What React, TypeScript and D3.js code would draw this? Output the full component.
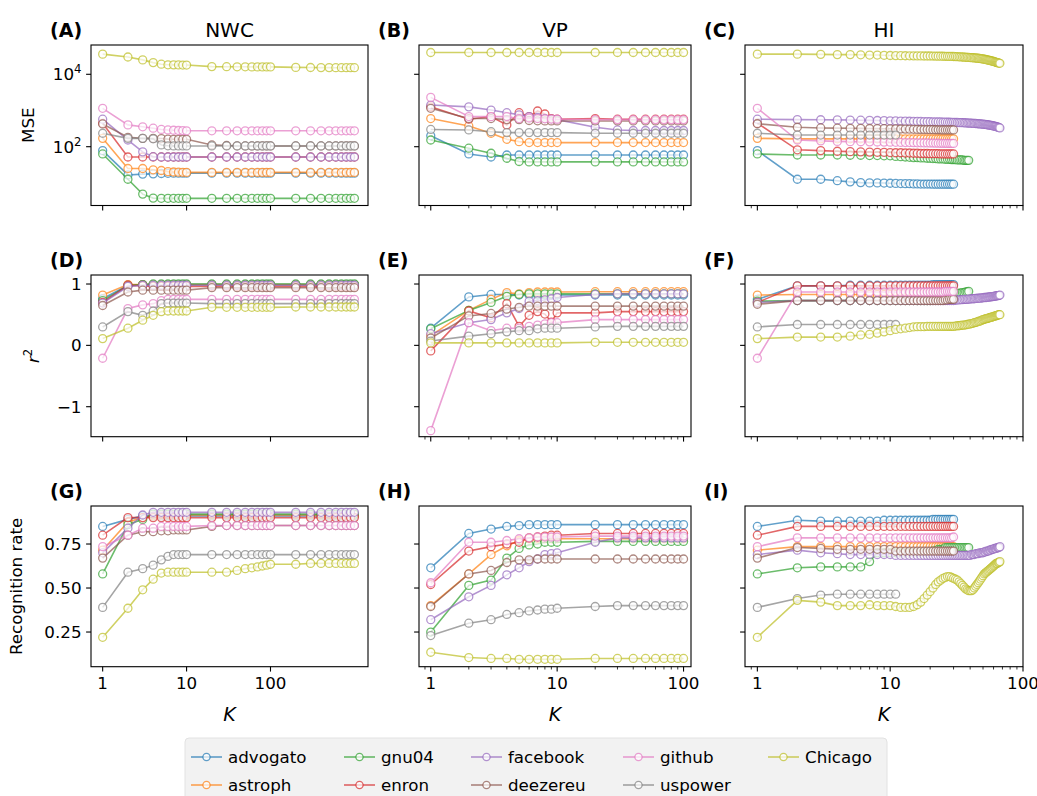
import React, { useEffect, useRef } from 'react';
import * as d3 from 'd3';

// ---- data ----
const seriesNames = ['advogato', 'astroph', 'gnu04', 'enron', 'facebook', 'deezereu', 'github', 'uspower', 'Chicago'];
const seriesColors = ['#1f77b4', '#ff7f0e', '#2ca02c', '#d62728', '#9467bd', '#8c564b', '#e377c2', '#7f7f7f', '#bcbd22'];

const kNWC = [1, 2, 3, 4, 5, 6, 7, 8, 9, 10, 20, 30, 40, 50, 60, 70, 80, 90, 100, 200, 300, 400, 500, 600, 700, 800, 900, 1000];
const kVP = [1, 2, 3, 4, 5, 6, 7, 8, 9, 10, 20, 30, 40, 50, 60, 70, 80, 90, 100];
const kHI = [
  1, 2, 3, 4, 5, 6, 7, 8, 9, 10, 11, 12, 13, 14, 15, 16, 17, 18, 19, 20,
  21, 22, 23, 24, 25, 26, 27, 28, 29, 30, 31, 32, 33, 34, 35, 36, 37, 38, 39, 40,
  41, 42, 43, 44, 45, 46, 47, 48, 49, 50, 51, 52, 53, 54, 55, 56, 57, 58, 59, 60,
  61, 62, 63, 64, 65, 66, 67,
];

const mseNWC: Record<string, number[]> = {
  advogato: [78, 16.6, 17.5, 17.8, 18.2, 18.4, 18.6, 18.6, 18.6, 18.6, 18.6, 18.6, 18.6, 18.6, 18.6, 18.6, 18.6, 18.6, 18.6, 18.6, 18.6, 18.6, 18.6, 18.6, 18.6, 18.6, 18.6, 18.6],
  astroph: [170, 25, 25, 23, 22, 20.5, 20, 19.8, 19.6, 19.5, 19.5, 19.5, 19.5, 19.5, 19.5, 19.5, 19.5, 19.5, 19.5, 19.5, 19.5, 19.5, 19.5, 19.5, 19.5, 19.5, 19.5, 19.5],
  gnu04: [63, 12.6, 4.9, 3.8, 3.75, 3.75, 3.75, 3.75, 3.75, 3.75, 3.75, 3.75, 3.75, 3.75, 3.75, 3.75, 3.75, 3.75, 3.75, 3.75, 3.75, 3.75, 3.75, 3.75, 3.75, 3.75, 3.75, 3.75],
  enron: [443, 52, 52, 52, 52, 52, 52, 52, 52, 52, 52, 52, 52, 52, 52, 52, 52, 52, 52, 52, 52, 52, 52, 52, 52, 52, 52, 52],
  facebook: [575, 153, 72, 53, 52, 52, 52, 52, 52, 52, 52, 52, 52, 52, 52, 52, 52, 52, 52, 52, 52, 52, 52, 52, 52, 52, 52, 52],
  deezereu: [425, 182, 170, 170, 168, 162, 160, 160, 160, 160, 112, 108, 106, 105, 105, 105, 105, 105, 105, 105, 105, 105, 105, 105, 105, 105, 105, 105],
  github: [1150, 400, 355, 325, 300, 290, 285, 280, 278, 275, 275, 275, 275, 275, 275, 275, 275, 275, 275, 275, 275, 275, 275, 275, 275, 275, 275, 275],
  uspower: [235, 170, 170, 165, 112, 106, 105, 105, 105, 105, 105, 105, 105, 105, 105, 105, 105, 105, 105, 105, 105, 105, 105, 105, 105, 105, 105, 105],
  Chicago: [36000, 30000, 25000, 21000, 19000, 18300, 18200, 18100, 18000, 18000, 16300, 16200, 16100, 16100, 16000, 16000, 16000, 16000, 16000, 15500, 15400, 15300, 15300, 15200, 15200, 15200, 15200, 15200],
};

const mseVP: Record<string, number[]> = {
  advogato: [200, 63, 52, 59, 59, 59, 59, 59, 59, 59, 59, 59, 59, 59, 59, 59, 59, 59, 59],
  astroph: [600, 375, 235, 160, 138, 130, 130, 130, 130, 130, 130, 130, 130, 130, 130, 130, 130, 130, 130],
  gnu04: [153, 91, 66, 48, 39, 38, 38, 38, 38, 38, 38, 38, 38, 38, 38, 38, 38, 38, 38],
  enron: [1260, 575, 680, 400, 870, 680, 970, 800, 600, 575, 600, 575, 575, 575, 575, 575, 575, 575, 575],
  facebook: [1420, 1260, 1030, 870, 760, 680, 640, 600, 580, 560, 345, 290, 280, 280, 280, 280, 280, 280, 280],
  deezereu: [1150, 600, 600, 560, 560, 530, 520, 515, 515, 515, 515, 515, 515, 515, 515, 515, 515, 515, 515],
  github: [2300, 680, 676, 680, 600, 620, 600, 590, 580, 575, 560, 560, 560, 560, 560, 560, 560, 560, 560],
  uspower: [300, 290, 260, 245, 245, 245, 245, 245, 245, 245, 235, 235, 235, 235, 235, 235, 235, 235, 235],
  Chicago: [40000, 40000, 40000, 40000, 40000, 40000, 40000, 40000, 40000, 40000, 40000, 40000, 40000, 40000, 40000, 40000, 40000, 40000, 40000],
};

const mseHI: Record<string, number[]> = {
  advogato: [78, 12.6, 12.6, 11.5, 10.7, 10.2, 10, 10, 9.9, 9.8, 9.7, 9.6, 9.5, 9.5, 9.4, 9.4, 9.3, 9.3, 9.3, 9.3, 9.2, 9.2, 9.2, 9.2, 9.2, 9.2, 9.2, 9.2, 9.2, 9.2],
  astroph: [170, 165, 165, 165, 165, 165, 165, 165, 165, 165, 165, 165, 165, 165, 165, 165, 165, 165, 165, 165, 165, 165, 165, 165, 165, 165, 165, 165, 165, 165],
  gnu04: [63, 59, 59, 59, 58, 58, 57, 57, 56, 56, 54, 53, 52, 51, 50, 50, 49, 49, 48, 48, 47, 47, 46, 46, 46, 45, 45, 45, 44, 44, 44, 43, 43, 43, 43, 42, 42, 42, 42],
  enron: [445, 82, 78, 75, 73, 72, 71, 70, 70, 69, 68, 68, 67, 67, 66, 66, 65, 65, 65, 64, 64, 64, 64, 63, 63, 63, 63, 63, 63, 63],
  facebook: [
    575, 560, 555, 550, 545, 540, 535, 530, 525, 520, 515, 510, 508, 505, 502, 500, 498, 495, 492, 490,
    488, 486, 484, 482, 480, 478, 476, 474, 472, 470, 468, 466, 464, 462, 460, 458, 455, 452, 450, 448,
    445, 442, 440, 437, 434, 431, 428, 425, 422, 420, 416, 412, 408, 404, 400, 395, 390, 385, 380, 375,
    370, 364, 358, 352, 345, 338, 330,
  ],
  deezereu: [430, 345, 330, 325, 322, 320, 318, 316, 314, 312, 310, 308, 306, 304, 302, 300, 299, 298, 297, 296, 295, 294, 293, 292, 291, 290, 290, 290, 290, 290],
  github: [1150, 153, 145, 140, 138, 137, 136, 135, 134, 133, 132, 131, 130, 130, 129, 128, 128, 127, 127, 126, 126, 125, 125, 124, 124, 124, 123, 123, 123, 123],
  uspower: [235, 210, 210, 210, 210, 210, 210, 210, 210, 210, 210],
  Chicago: [
    36000, 36000, 35500, 35000, 35000, 34500, 34000, 34000, 33500, 33000, 32800, 32600, 32500, 32400, 32300, 32200, 32100, 32000, 32000, 32000,
    31900, 31800, 31700, 31600, 31500, 31400, 31300, 31200, 31100, 31000, 30800, 30600, 30400, 30200, 30000, 29800, 29600, 29400, 29200, 29000,
    28800, 28600, 28400, 28200, 28000, 27700, 27400, 27100, 26800, 26500, 26200, 25800, 25400, 25000, 24600, 24200, 23800, 23400, 23000, 22600,
    22200, 21800, 21400, 21000, 20700, 20400, 20100,
  ],
};

const r2NWC: Record<string, number[]> = {
  advogato: [0.76, 0.98, 0.99, 0.99, 0.99, 0.99, 0.99, 0.99, 0.99, 0.99, 0.99, 0.99, 0.99, 0.99, 0.99, 0.99, 0.99, 0.99, 0.99, 0.99, 0.99, 0.99, 0.99, 0.99, 0.99, 0.99, 0.99, 0.99],
  astroph: [0.82, 0.99, 0.99, 0.99, 0.99, 0.99, 0.99, 0.99, 0.99, 0.99, 0.99, 0.99, 0.99, 0.99, 0.99, 0.99, 0.99, 0.99, 0.99, 0.99, 0.99, 0.99, 0.99, 0.99, 0.99, 0.99, 0.99, 0.99],
  gnu04: [0.73, 0.97, 0.99, 1.0, 1.0, 1.0, 1.0, 1.0, 1.0, 1.0, 1.0, 1.0, 1.0, 1.0, 1.0, 1.0, 1.0, 1.0, 1.0, 1.0, 1.0, 1.0, 1.0, 1.0, 1.0, 1.0, 1.0, 1.0],
  enron: [0.7, 0.98, 0.97, 0.96, 0.96, 0.96, 0.96, 0.96, 0.96, 0.96, 0.96, 0.96, 0.96, 0.96, 0.96, 0.96, 0.96, 0.96, 0.96, 0.96, 0.96, 0.96, 0.96, 0.96, 0.96, 0.96, 0.96, 0.96],
  facebook: [0.69, 0.96, 0.98, 0.98, 0.98, 0.98, 0.98, 0.98, 0.98, 0.98, 0.98, 0.98, 0.98, 0.98, 0.98, 0.98, 0.98, 0.98, 0.98, 0.98, 0.98, 0.98, 0.98, 0.98, 0.98, 0.98, 0.98, 0.98],
  deezereu: [0.65, 0.87, 0.9, 0.9, 0.9, 0.9, 0.9, 0.9, 0.9, 0.9, 0.94, 0.94, 0.94, 0.94, 0.94, 0.94, 0.94, 0.94, 0.94, 0.94, 0.94, 0.94, 0.94, 0.94, 0.94, 0.94, 0.94, 0.94],
  github: [-0.21, 0.6, 0.66, 0.68, 0.73, 0.75, 0.75, 0.75, 0.75, 0.75, 0.75, 0.75, 0.75, 0.75, 0.75, 0.75, 0.75, 0.75, 0.75, 0.75, 0.75, 0.75, 0.75, 0.75, 0.75, 0.75, 0.75, 0.75],
  uspower: [0.3, 0.55, 0.49, 0.56, 0.68, 0.69, 0.69, 0.69, 0.69, 0.69, 0.68, 0.68, 0.68, 0.68, 0.68, 0.68, 0.68, 0.68, 0.68, 0.68, 0.68, 0.68, 0.68, 0.68, 0.68, 0.68, 0.68, 0.68],
  Chicago: [0.11, 0.28, 0.41, 0.49, 0.55, 0.56, 0.56, 0.56, 0.56, 0.56, 0.62, 0.62, 0.62, 0.62, 0.62, 0.62, 0.62, 0.62, 0.62, 0.625, 0.625, 0.625, 0.625, 0.625, 0.625, 0.625, 0.625, 0.625],
};

const r2VP: Record<string, number[]> = {
  advogato: [0.28, 0.79, 0.83, 0.83, 0.82, 0.82, 0.82, 0.82, 0.82, 0.82, 0.82, 0.82, 0.82, 0.82, 0.82, 0.82, 0.82, 0.82, 0.82],
  astroph: [0.16, 0.57, 0.75, 0.86, 0.84, 0.86, 0.87, 0.87, 0.87, 0.87, 0.875, 0.875, 0.875, 0.875, 0.875, 0.875, 0.875, 0.875, 0.875],
  gnu04: [0.27, 0.57, 0.7, 0.8, 0.83, 0.84, 0.84, 0.84, 0.84, 0.84, 0.84, 0.84, 0.84, 0.84, 0.84, 0.84, 0.84, 0.84, 0.84],
  enron: [-0.09, 0.56, 0.45, 0.68, 0.31, 0.49, 0.55, 0.51, 0.38, 0.53, 0.53, 0.55, 0.55, 0.55, 0.55, 0.55, 0.55, 0.55, 0.55],
  facebook: [0.19, 0.37, 0.42, 0.53, 0.6, 0.72, 0.73, 0.74, 0.76, 0.78, 0.83, 0.84, 0.84, 0.84, 0.84, 0.84, 0.84, 0.84, 0.84],
  deezereu: [0.12, 0.48, 0.52, 0.59, 0.62, 0.64, 0.64, 0.64, 0.64, 0.64, 0.64, 0.64, 0.64, 0.64, 0.64, 0.64, 0.64, 0.64, 0.64],
  github: [-1.39, 0.37, 0.24, 0.28, 0.28, 0.31, 0.33, 0.35, 0.37, 0.37, 0.42, 0.42, 0.42, 0.42, 0.42, 0.42, 0.42, 0.42, 0.42],
  uspower: [0.07, 0.15, 0.19, 0.22, 0.24, 0.24, 0.27, 0.28, 0.28, 0.28, 0.3, 0.31, 0.31, 0.31, 0.31, 0.31, 0.31, 0.31, 0.31],
  Chicago: [0.04, 0.04, 0.04, 0.04, 0.04, 0.04, 0.04, 0.04, 0.04, 0.04, 0.05, 0.05, 0.05, 0.05, 0.05, 0.05, 0.05, 0.05, 0.05],
};

const r2HI: Record<string, number[]> = {
  advogato: [0.75, 0.97, 0.97, 0.97, 0.98, 0.98, 0.98, 0.98, 0.98, 0.98, 0.98, 0.98, 0.98, 0.98, 0.98, 0.98, 0.98, 0.98, 0.98, 0.98, 0.99, 0.99, 0.99, 0.99, 0.99, 0.99, 0.99, 0.99, 0.99, 0.99],
  astroph: [0.82, 0.83, 0.83, 0.83, 0.83, 0.83, 0.83, 0.83, 0.83, 0.83, 0.83, 0.83, 0.83, 0.83, 0.83, 0.83, 0.83, 0.83, 0.83, 0.83, 0.83, 0.83, 0.83, 0.83, 0.83, 0.83, 0.83, 0.83, 0.83, 0.83],
  gnu04: [
    0.72, 0.73, 0.73, 0.73, 0.73, 0.73, 0.73, 0.73, 0.73, 0.73, 0.73, 0.73, 0.73, 0.73, 0.73, 0.73, 0.73, 0.73, 0.73, 0.73,
    0.74, 0.75, 0.76, 0.77, 0.78, 0.79, 0.8, 0.81, 0.82, 0.83, 0.84, 0.84, 0.85, 0.85, 0.86, 0.86, 0.87, 0.87, 0.88,
  ],
  enron: [0.7, 0.97, 0.97, 0.97, 0.97, 0.97, 0.97, 0.97, 0.97, 0.97, 0.97, 0.97, 0.97, 0.97, 0.97, 0.97, 0.97, 0.97, 0.97, 0.97, 0.97, 0.97, 0.97, 0.97, 0.97, 0.97, 0.97, 0.97, 0.97, 0.97],
  facebook: [
    0.7, 0.73, 0.73, 0.73, 0.73, 0.73, 0.73, 0.73, 0.73, 0.73, 0.73, 0.73, 0.73, 0.73, 0.73, 0.73, 0.73, 0.73, 0.73, 0.73,
    0.73, 0.73, 0.73, 0.73, 0.73, 0.73, 0.73, 0.73, 0.73, 0.73, 0.735, 0.74, 0.74, 0.745, 0.745, 0.75, 0.75, 0.75, 0.755, 0.755,
    0.76, 0.76, 0.76, 0.765, 0.765, 0.77, 0.77, 0.77, 0.775, 0.775, 0.78, 0.78, 0.78, 0.785, 0.785, 0.79, 0.79, 0.795, 0.795, 0.8,
    0.8, 0.805, 0.805, 0.81, 0.81, 0.815, 0.82,
  ],
  deezereu: [0.67, 0.73, 0.73, 0.73, 0.73, 0.73, 0.73, 0.73, 0.73, 0.73, 0.73, 0.73, 0.73, 0.73, 0.73, 0.73, 0.73, 0.73, 0.73, 0.73, 0.73, 0.73, 0.73, 0.73, 0.73, 0.74, 0.74, 0.75, 0.75, 0.75],
  github: [-0.21, 0.87, 0.87, 0.87, 0.87, 0.87, 0.87, 0.87, 0.87, 0.87, 0.87, 0.87, 0.87, 0.87, 0.87, 0.87, 0.87, 0.87, 0.87, 0.87, 0.87, 0.87, 0.87, 0.87, 0.87, 0.88, 0.88, 0.88, 0.88, 0.88],
  uspower: [0.3, 0.34, 0.34, 0.34, 0.34, 0.34, 0.34, 0.34, 0.34, 0.34, 0.34],
  Chicago: [
    0.11, 0.135, 0.135, 0.135, 0.15, 0.17, 0.18, 0.2, 0.22, 0.24, 0.26, 0.27, 0.28, 0.29, 0.3, 0.305, 0.305, 0.305, 0.31, 0.31,
    0.31, 0.31, 0.31, 0.31, 0.31, 0.31, 0.31, 0.31, 0.31, 0.31, 0.315, 0.32, 0.32, 0.325, 0.33, 0.33, 0.335, 0.34, 0.345, 0.35,
    0.355, 0.36, 0.37, 0.375, 0.38, 0.39, 0.395, 0.4, 0.41, 0.42, 0.425, 0.43, 0.435, 0.44, 0.445, 0.45, 0.455, 0.46, 0.465, 0.47,
    0.475, 0.48, 0.485, 0.49, 0.495, 0.5, 0.5,
  ],
};

const recNWC: Record<string, number[]> = {
  advogato: [0.85, 0.89, 0.91, 0.91, 0.91, 0.91, 0.91, 0.91, 0.91, 0.91, 0.91, 0.91, 0.91, 0.91, 0.91, 0.91, 0.91, 0.91, 0.91, 0.91, 0.91, 0.91, 0.91, 0.91, 0.91, 0.91, 0.91, 0.91],
  astroph: [0.715, 0.875, 0.9, 0.91, 0.915, 0.915, 0.915, 0.915, 0.915, 0.915, 0.915, 0.915, 0.915, 0.915, 0.915, 0.915, 0.915, 0.915, 0.915, 0.915, 0.915, 0.915, 0.915, 0.915, 0.915, 0.915, 0.915, 0.915],
  gnu04: [0.58, 0.86, 0.89, 0.92, 0.92, 0.92, 0.92, 0.92, 0.92, 0.92, 0.92, 0.92, 0.92, 0.92, 0.92, 0.92, 0.92, 0.92, 0.92, 0.92, 0.92, 0.92, 0.92, 0.92, 0.92, 0.92, 0.92, 0.92],
  enron: [0.8, 0.9, 0.9, 0.9, 0.9, 0.9, 0.9, 0.9, 0.9, 0.9, 0.9, 0.9, 0.9, 0.9, 0.9, 0.9, 0.9, 0.9, 0.9, 0.9, 0.9, 0.9, 0.9, 0.9, 0.9, 0.9, 0.9, 0.9],
  facebook: [0.7, 0.84, 0.915, 0.93, 0.93, 0.93, 0.93, 0.93, 0.93, 0.93, 0.93, 0.93, 0.93, 0.93, 0.93, 0.93, 0.93, 0.93, 0.93, 0.93, 0.93, 0.93, 0.93, 0.93, 0.93, 0.93, 0.93, 0.93],
  deezereu: [0.67, 0.8, 0.82, 0.82, 0.825, 0.825, 0.83, 0.83, 0.83, 0.83, 0.85, 0.855, 0.855, 0.855, 0.855, 0.855, 0.855, 0.855, 0.855, 0.855, 0.855, 0.855, 0.855, 0.855, 0.855, 0.855, 0.855, 0.855],
  github: [0.735, 0.8, 0.84, 0.84, 0.85, 0.85, 0.85, 0.85, 0.85, 0.85, 0.855, 0.855, 0.855, 0.855, 0.855, 0.855, 0.855, 0.855, 0.855, 0.855, 0.855, 0.855, 0.855, 0.855, 0.855, 0.855, 0.855, 0.855],
  uspower: [0.39, 0.59, 0.61, 0.63, 0.66, 0.68, 0.69, 0.69, 0.69, 0.69, 0.69, 0.69, 0.69, 0.69, 0.69, 0.69, 0.69, 0.69, 0.69, 0.69, 0.69, 0.69, 0.69, 0.69, 0.69, 0.69, 0.69, 0.69],
  Chicago: [0.22, 0.385, 0.49, 0.55, 0.585, 0.59, 0.59, 0.59, 0.59, 0.59, 0.59, 0.59, 0.6, 0.61, 0.615, 0.62, 0.625, 0.63, 0.635, 0.635, 0.64, 0.64, 0.64, 0.64, 0.64, 0.64, 0.64, 0.64],
};

const recVP: Record<string, number[]> = {
  advogato: [0.615, 0.81, 0.835, 0.85, 0.855, 0.86, 0.86, 0.86, 0.86, 0.86, 0.86, 0.86, 0.86, 0.86, 0.86, 0.86, 0.86, 0.86, 0.86],
  astroph: [0.4, 0.58, 0.69, 0.74, 0.77, 0.78, 0.78, 0.78, 0.78, 0.78, 0.78, 0.78, 0.78, 0.78, 0.78, 0.78, 0.78, 0.78, 0.78],
  gnu04: [0.25, 0.515, 0.545, 0.67, 0.725, 0.745, 0.75, 0.76, 0.76, 0.76, 0.765, 0.765, 0.765, 0.765, 0.765, 0.765, 0.765, 0.765, 0.765],
  enron: [0.52, 0.71, 0.735, 0.75, 0.76, 0.785, 0.79, 0.795, 0.8, 0.8, 0.81, 0.81, 0.81, 0.81, 0.81, 0.81, 0.81, 0.81, 0.81],
  facebook: [0.32, 0.45, 0.515, 0.575, 0.615, 0.65, 0.665, 0.69, 0.695, 0.7, 0.76, 0.785, 0.785, 0.785, 0.785, 0.785, 0.785, 0.785, 0.785],
  deezereu: [0.395, 0.58, 0.6, 0.645, 0.66, 0.66, 0.665, 0.665, 0.665, 0.665, 0.665, 0.665, 0.665, 0.665, 0.665, 0.665, 0.665, 0.665, 0.665],
  github: [0.53, 0.76, 0.76, 0.77, 0.78, 0.785, 0.79, 0.79, 0.79, 0.79, 0.795, 0.795, 0.795, 0.795, 0.795, 0.795, 0.795, 0.795, 0.795],
  uspower: [0.23, 0.3, 0.32, 0.35, 0.36, 0.37, 0.375, 0.38, 0.38, 0.385, 0.395, 0.4, 0.4, 0.4, 0.4, 0.4, 0.4, 0.4, 0.4],
  Chicago: [0.135, 0.105, 0.1, 0.1, 0.095, 0.095, 0.095, 0.095, 0.095, 0.095, 0.1, 0.1, 0.1, 0.1, 0.1, 0.1, 0.1, 0.1, 0.1],
};

const recHI: Record<string, number[]> = {
  advogato: [0.85, 0.885, 0.88, 0.88, 0.88, 0.88, 0.88, 0.88, 0.885, 0.885, 0.885, 0.885, 0.885, 0.885, 0.885, 0.885, 0.885, 0.885, 0.885, 0.885, 0.89, 0.89, 0.89, 0.89, 0.89, 0.89, 0.89, 0.89, 0.89, 0.89],
  astroph: [0.715, 0.735, 0.735, 0.735, 0.735, 0.735, 0.735, 0.735, 0.735, 0.735, 0.735, 0.735, 0.735, 0.735, 0.735, 0.735, 0.735, 0.735, 0.735, 0.735, 0.735, 0.735, 0.735, 0.735, 0.735, 0.735, 0.735, 0.735, 0.735, 0.735],
  gnu04: [
    0.58, 0.615, 0.62, 0.62, 0.62, 0.62, 0.65, 0.7, 0.7, 0.7, 0.7, 0.7, 0.7, 0.7, 0.7, 0.7, 0.7, 0.7, 0.7, 0.7,
    0.71, 0.71, 0.72, 0.72, 0.72, 0.73, 0.73, 0.73, 0.73, 0.73, 0.73, 0.73, 0.73, 0.73, 0.73, 0.73, 0.73, 0.73, 0.73,
  ],
  enron: [0.8, 0.85, 0.85, 0.85, 0.85, 0.85, 0.85, 0.85, 0.85, 0.85, 0.85, 0.85, 0.85, 0.85, 0.85, 0.85, 0.85, 0.85, 0.85, 0.85, 0.85, 0.85, 0.85, 0.85, 0.85, 0.85, 0.85, 0.85, 0.85, 0.85],
  facebook: [
    0.69, 0.715, 0.7, 0.695, 0.69, 0.69, 0.69, 0.69, 0.69, 0.69, 0.685, 0.685, 0.685, 0.685, 0.685, 0.685, 0.685, 0.685, 0.685, 0.685,
    0.685, 0.685, 0.685, 0.685, 0.685, 0.685, 0.685, 0.685, 0.685, 0.685, 0.685, 0.685, 0.685, 0.685, 0.685, 0.685, 0.685, 0.685, 0.685, 0.685,
    0.69, 0.69, 0.69, 0.695, 0.695, 0.695, 0.7, 0.7, 0.7, 0.7, 0.705, 0.705, 0.71, 0.71, 0.71, 0.715, 0.715, 0.72, 0.72, 0.72,
    0.725, 0.725, 0.725, 0.73, 0.73, 0.73, 0.735,
  ],
  deezereu: [0.67, 0.73, 0.725, 0.72, 0.72, 0.72, 0.72, 0.72, 0.72, 0.72, 0.71, 0.71, 0.71, 0.71, 0.71, 0.71, 0.71, 0.71, 0.71, 0.71, 0.71, 0.71, 0.71, 0.71, 0.71, 0.71, 0.71, 0.71, 0.71, 0.71],
  github: [0.735, 0.785, 0.785, 0.785, 0.785, 0.785, 0.785, 0.785, 0.785, 0.785, 0.785, 0.785, 0.785, 0.785, 0.785, 0.785, 0.785, 0.785, 0.785, 0.785, 0.785, 0.785, 0.785, 0.785, 0.785, 0.785, 0.785, 0.785, 0.785, 0.79],
  uspower: [0.39, 0.44, 0.46, 0.465, 0.465, 0.465, 0.465, 0.465, 0.465, 0.465, 0.465],
  Chicago: [
    0.22, 0.43, 0.42, 0.4, 0.4, 0.4, 0.405, 0.4, 0.4, 0.4, 0.395, 0.39, 0.39, 0.39, 0.395, 0.405, 0.42, 0.44, 0.46, 0.48,
    0.5, 0.52, 0.535, 0.545, 0.555, 0.56, 0.565, 0.565, 0.56, 0.555, 0.55, 0.545, 0.535, 0.525, 0.515, 0.505, 0.495, 0.49, 0.485, 0.485,
    0.485, 0.49, 0.5, 0.51, 0.52, 0.53, 0.54, 0.55, 0.56, 0.57, 0.58, 0.585, 0.59, 0.595, 0.6, 0.605, 0.61, 0.615, 0.62, 0.625,
    0.63, 0.635, 0.64, 0.64, 0.645, 0.645, 0.65,
  ],
};

const colTitles = ['NWC', 'VP', 'HI'];
const panelLetters = ['A', 'B', 'C', 'D', 'E', 'F', 'G', 'H', 'I'];
const xTickValues = [1, 10, 100];
const xMinorValues = [0.9, 2, 3, 4, 5, 6, 7, 8, 9, 20, 30, 40, 50, 60, 70, 80, 90];
const mseTicks = [100, 10000];
const r2Ticks = [-1, 0, 1];
const recTicks = [0.25, 0.5, 0.75];

const FONT = '"DejaVu Sans", sans-serif';

const App = () => {
  const ref = useRef<SVGSVGElement>(null);

  useEffect(() => {
    document.body.style.margin = '0';
    const svg = d3.select(ref.current);
    svg.selectAll('*').remove();

    const cols = [
      { k: kNWC, lo: -0.139, hi: 3.162, left: 91, right: 368, minor: false },
      { k: kVP, lo: -0.093, hi: 2.059, left: 419, right: 691, minor: true },
      { k: kHI, lo: -0.093, hi: 2.0, left: 745, right: 1023, minor: true },
    ];
    const rows = [
      { top: 45, bottom: 205.5, log: true, lo: Math.pow(10, 0.376), hi: Math.pow(10, 4.809), ticks: mseTicks, data: [mseNWC, mseVP, mseHI] },
      { top: 275, bottom: 436.7, log: false, lo: -1.489, hi: 1.147, ticks: r2Ticks, data: [r2NWC, r2VP, r2HI] },
      { top: 506, bottom: 666.7, log: false, lo: 0.053, hi: 0.966, ticks: recTicks, data: [recNWC, recVP, recHI] },
    ];

    const defs = svg.append('defs');

    rows.forEach((row, ri) => {
      cols.forEach((col, ci) => {
        const x = d3.scaleLog().domain([Math.pow(10, col.lo), Math.pow(10, col.hi)]).range([col.left, col.right]);
        const y = (row.log ? d3.scaleLog() : d3.scaleLinear())
          .domain([row.lo, row.hi])
          .range([row.bottom, row.top]) as d3.ScaleContinuousNumeric<number, number>;

        const clipId = `clip-${ri}-${ci}`;
        defs.append('clipPath').attr('id', clipId)
          .append('rect')
          .attr('x', col.left).attr('y', row.top)
          .attr('width', col.right - col.left).attr('height', row.bottom - row.top);

        const g = svg.append('g');
        const plot = g.append('g').attr('clip-path', `url(#${clipId})`);
        const data = row.data[ci];

        seriesNames.forEach((name, si) => {
          const vals = data[name];
          if (!vals) return;
          const pts = vals.map((v, j) => [col.k[j], v] as [number, number]);
          const color = seriesColors[si];
          plot.append('path')
            .datum(pts)
            .attr('d', d3.line<[number, number]>().x(d => x(d[0])).y(d => y(d[1])))
            .attr('fill', 'none')
            .attr('stroke', color)
            .attr('stroke-opacity', 0.7)
            .attr('stroke-width', 1.6);
          plot.append('g')
            .selectAll('circle')
            .data(pts)
            .join('circle')
            .attr('cx', d => x(d[0]))
            .attr('cy', d => y(d[1]))
            .attr('r', 4)
            .attr('fill', '#fff')
            .attr('fill-opacity', 0.7)
            .attr('stroke', color)
            .attr('stroke-opacity', 0.7)
            .attr('stroke-width', 1.3);
        });

        // frame
        g.append('rect')
          .attr('x', col.left).attr('y', row.top)
          .attr('width', col.right - col.left).attr('height', row.bottom - row.top)
          .attr('fill', 'none').attr('stroke', '#000').attr('stroke-width', 1.1);

        // x ticks
        g.append('g').selectAll('line')
          .data(xTickValues.filter(v => x(v) <= col.right + 0.5))
          .join('line')
          .attr('x1', d => x(d)).attr('x2', d => x(d))
          .attr('y1', row.bottom).attr('y2', row.bottom + 4.9)
          .attr('stroke', '#000').attr('stroke-width', 1.1);
        if (col.minor) {
          g.append('g').selectAll('line')
            .data(xMinorValues.filter(v => x(v) >= col.left && x(v) <= col.right))
            .join('line')
            .attr('x1', d => x(d)).attr('x2', d => x(d))
            .attr('y1', row.bottom).attr('y2', row.bottom + 2.8)
            .attr('stroke', '#000').attr('stroke-width', 0.8);
        }
        if (ri === 2) {
          g.append('g').selectAll('text')
            .data(xTickValues)
            .join('text')
            .attr('x', d => x(d))
            .attr('y', row.bottom + 22.5)
            .attr('text-anchor', 'middle')
            .attr('font-family', FONT)
            .attr('font-size', 16.7)
            .text(d => String(d));
          g.append('text')
            .attr('x', (col.left + col.right) / 2)
            .attr('y', row.bottom + 54)
            .attr('text-anchor', 'middle')
            .attr('font-family', FONT)
            .attr('font-style', 'italic')
            .attr('font-size', 19)
            .text('K');
        }

        // y ticks
        g.append('g').selectAll('line')
          .data(row.ticks)
          .join('line')
          .attr('x1', col.left - 4.9).attr('x2', col.left)
          .attr('y1', d => y(d)).attr('y2', d => y(d))
          .attr('stroke', '#000').attr('stroke-width', 1.1);

        if (ci === 0) {
          const lbl = g.append('g').selectAll('text')
            .data(row.ticks)
            .join('text')
            .attr('x', col.left - 9.5)
            .attr('y', d => y(d) + 6)
            .attr('text-anchor', 'end')
            .attr('font-family', FONT)
            .attr('font-size', 16.7);
          if (ri === 0) {
            lbl.each(function (d) {
              const t = d3.select(this);
              t.append('tspan').text('10');
              t.append('tspan').attr('dy', -7).attr('font-size', 11.7).text(String(Math.round(Math.log10(d))));
            });
          } else if (ri === 1) {
            lbl.text(d => (d < 0 ? '\u2212' + Math.abs(d) : String(d)));
          } else {
            lbl.text(d => d3.format('.2f')(d));
          }
        }

        // panel letter
        g.append('text')
          .attr('x', col.left - 41)
          .attr('y', row.top - 8)
          .attr('font-family', FONT)
          .attr('font-weight', 'bold')
          .attr('font-size', 19)
          .text(`(${panelLetters[ri * 3 + ci]})`);

        if (ri === 0) {
          g.append('text')
            .attr('x', (col.left + col.right) / 2)
            .attr('y', row.top - 8)
            .attr('text-anchor', 'middle')
            .attr('font-family', FONT)
            .attr('font-size', 20)
            .text(colTitles[ci]);
        }
      });
    });

    // y labels
    const ylab = (xPos: number, yPos: number) =>
      svg.append('text')
        .attr('transform', `translate(${xPos},${yPos}) rotate(-90)`)
        .attr('text-anchor', 'middle')
        .attr('font-family', FONT)
        .attr('font-size', 16.7);
    ylab(34, (rows[0].top + rows[0].bottom) / 2).text('MSE');
    const r2 = ylab(39, (rows[1].top + rows[1].bottom) / 2);
    r2.append('tspan').attr('font-style', 'italic').text('r');
    r2.append('tspan').attr('dy', -7).attr('font-size', 11.7).text('2');
    ylab(22, (rows[2].top + rows[2].bottom) / 2).text('Recognition rate');

    // legend
    const legend = svg.append('g');
    legend.append('rect')
      .attr('x', 185).attr('y', 738)
      .attr('width', 702).attr('height', 64)
      .attr('rx', 4)
      .attr('fill', '#f2f2f2')
      .attr('stroke', '#e2e2e2');
    const textStarts = [228, 381, 508, 660, 805];
    seriesNames.forEach((name, i) => {
      const c = Math.floor(i / 2);
      const r = i % 2;
      const tx = textStarts[c];
      const lx = tx - 37;
      const ly = 757 + r * 28;
      const item = legend.append('g');
      item.append('line')
        .attr('x1', lx).attr('x2', lx + 31)
        .attr('y1', ly).attr('y2', ly)
        .attr('stroke', seriesColors[i]).attr('stroke-opacity', 0.7).attr('stroke-width', 1.6);
      item.append('circle')
        .attr('cx', lx + 15.5).attr('cy', ly).attr('r', 3.6)
        .attr('fill', '#fff').attr('fill-opacity', 0.7)
        .attr('stroke', seriesColors[i]).attr('stroke-opacity', 0.7).attr('stroke-width', 1.3);
      item.append('text')
        .attr('x', tx).attr('y', ly + 6)
        .attr('font-family', FONT)
        .attr('font-size', 16.7)
        .text(name);
    });
  }, []);

  return <svg ref={ref} width={1037} height={796} style={{ display: 'block', background: '#fff' }} />;
};

export default App;
